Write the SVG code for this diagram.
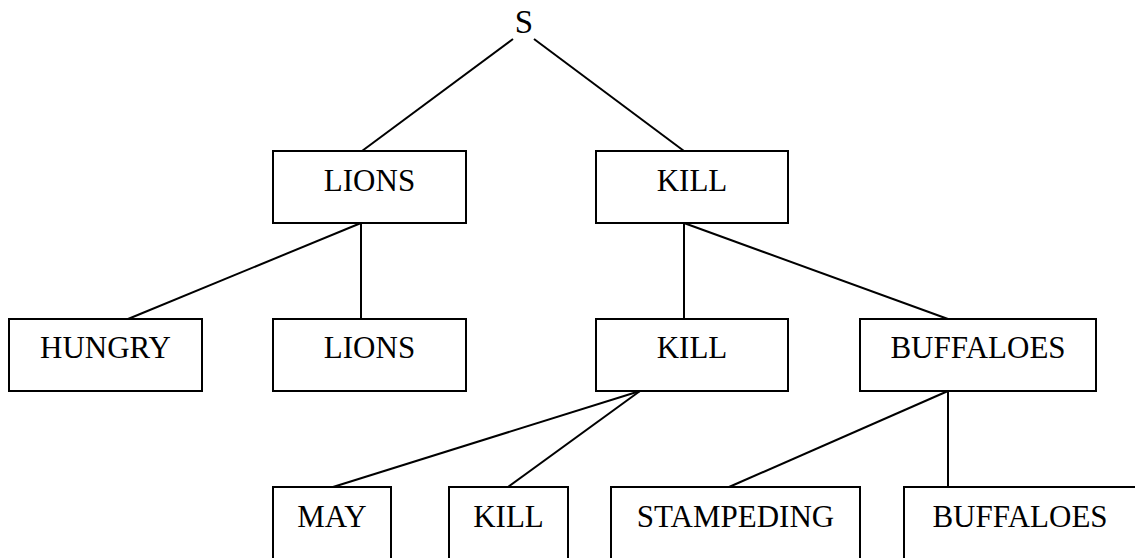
<svg xmlns="http://www.w3.org/2000/svg" width="1135" height="558" viewBox="0 0 1135 558">
<style>
.box{fill:#fff;stroke:#000;stroke-width:2}
.lbl{font-family:"Liberation Serif","Times New Roman",serif;font-size:31px;fill:#000;text-anchor:middle}
.edge{stroke:#000;stroke-width:2;fill:none}
</style>
<rect width="1135" height="558" fill="#fff"/>
<g id="connectors">
<line class="edge" x1="513" y1="39" x2="362" y2="151"/>
<line class="edge" x1="534" y1="39" x2="684" y2="151"/>
<line class="edge" x1="361" y1="223" x2="128" y2="319"/>
<line class="edge" x1="361" y1="223" x2="361" y2="319"/>
<line class="edge" x1="684" y1="223" x2="684" y2="319"/>
<line class="edge" x1="684" y1="223" x2="948" y2="319"/>
<line class="edge" x1="640" y1="391" x2="333" y2="487"/>
<line class="edge" x1="640" y1="391" x2="508" y2="487"/>
<line class="edge" x1="948" y1="391" x2="729" y2="487"/>
<line class="edge" x1="948" y1="391" x2="948" y2="487"/>
</g>
<g id="node-S"><text class="lbl" x="524" y="33" style="font-size:33px">S</text></g>
<g id="node-lions-top"><rect class="box" x="273" y="151" width="193" height="72"/><text class="lbl" x="369.5" y="191">LIONS</text></g>
<g id="node-kill-top"><rect class="box" x="596" y="151" width="192" height="72"/><text class="lbl" x="692" y="191">KILL</text></g>
<g id="node-hungry"><rect class="box" x="9" y="319" width="193" height="72"/><text class="lbl" x="105.5" y="358">HUNGRY</text></g>
<g id="node-lions-mid"><rect class="box" x="273" y="319" width="193" height="72"/><text class="lbl" x="369.5" y="358">LIONS</text></g>
<g id="node-kill-mid"><rect class="box" x="596" y="319" width="192" height="72"/><text class="lbl" x="692" y="358">KILL</text></g>
<g id="node-buffaloes-mid"><rect class="box" x="860" y="319" width="236" height="72"/><text class="lbl" x="978" y="358">BUFFALOES</text></g>
<g id="node-may"><rect class="box" x="273" y="487" width="118" height="74"/><text class="lbl" x="332" y="527">MAY</text></g>
<g id="node-kill-bottom"><rect class="box" x="449" y="487" width="119" height="74"/><text class="lbl" x="508.5" y="527">KILL</text></g>
<g id="node-stampeding"><rect class="box" x="611" y="487" width="249" height="74"/><text class="lbl" x="735.5" y="527">STAMPEDING</text></g>
<g id="node-buffaloes-bottom"><rect class="box" x="904" y="487" width="236" height="74"/><text class="lbl" x="1020" y="527">BUFFALOES</text></g>
</svg>
